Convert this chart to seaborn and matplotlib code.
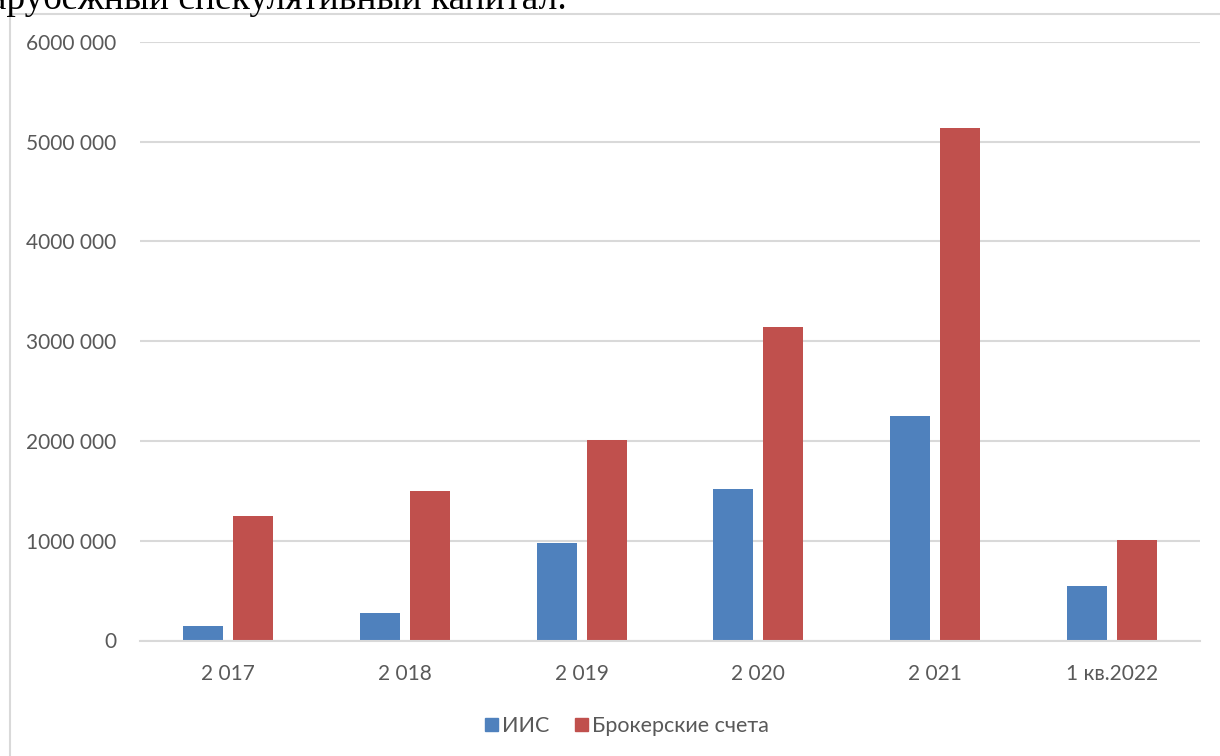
import matplotlib
matplotlib.use("Agg")
import matplotlib.pyplot as plt
import seaborn as sns
import pandas as pd
from matplotlib.lines import Line2D
from matplotlib.ticker import FuncFormatter

categories = ["2 017", "2 018", "2 019", "2 020", "2 021", "1 кв.2022"]
iis = [150000, 275000, 980000, 1515000, 2250000, 548000]
broker = [1250000, 1500000, 2010000, 3140000, 5135000, 1010000]
series_names = ["ИИС", "Брокерские счета"]
colors = ["#4f81bd", "#c0504d"]

df = pd.DataFrame({
    "cat": categories * 2,
    "val": iis + broker,
    "series": [series_names[0]] * len(categories) + [series_names[1]] * len(categories),
})

sns.set_style("white")
plt.rcParams["font.family"] = ["Lato", "DejaVu Sans"]

W, H = 1220, 756
fig = plt.figure(figsize=(W / 100, H / 100), dpi=100)
ax = fig.add_axes([140 / W, 1 - 640.5 / H, 1060 / W, (640.5 - 42) / H])

sns.barplot(data=df, x="cat", y="val", hue="series", palette=colors,
            width=0.566, gap=0.2, ax=ax, legend=False, saturation=1,
            edgecolor="none", linewidth=0)

ax.set_ylim(0, 6000000)
ax.set_xlim(-0.5, len(categories) - 0.5)
ax.set_yticks(range(0, 6000001, 1000000))


def fmt(v, pos):
    v = int(round(v))
    if v == 0:
        return "0"
    return f"{v // 1000} {v % 1000:03d}"


ax.yaxis.set_major_formatter(FuncFormatter(fmt))
ax.grid(axis="y", color="#d9d9d9", linewidth=1.5)
ax.set_axisbelow(True)
for s in ["top", "right", "left"]:
    ax.spines[s].set_visible(False)
ax.spines["bottom"].set_color("#d9d9d9")
ax.spines["bottom"].set_linewidth(1.5)
ax.tick_params(axis="both", length=0, labelsize=15, labelcolor="#595959")
ax.tick_params(axis="y", pad=17)
ax.tick_params(axis="x", pad=17)
ax.set_xlabel("")
ax.set_ylabel("")

# legend
handles = [plt.Rectangle((0, 0), 1, 1, color=c) for c in colors]
fig.legend(handles, series_names, loc="center", bbox_to_anchor=(627 / W, 1 - 726 / H),
           ncol=2, frameon=False, fontsize=15.5, labelcolor="#595959",
           handlelength=0.6, handleheight=0.6, handletextpad=0.2, columnspacing=1.2)

# chart frame
fig.add_artist(Line2D([10 / W, 10 / W], [0, 1 - 14 / H], transform=fig.transFigure,
                      color="#d9d9d9", linewidth=1.5))
fig.add_artist(Line2D([10 / W, 1], [1 - 14 / H, 1 - 14 / H], transform=fig.transFigure,
                      color="#d9d9d9", linewidth=1.5))

# cut-off text from the document above the chart
fig.text(567 / W, 1 - 9 / H, "зарубежный спекулятивный капитал.", ha="right", va="baseline",
         fontsize=27, family=["Liberation Serif", "DejaVu Serif"], color="black")

fig.savefig("out.png", dpi=100)
